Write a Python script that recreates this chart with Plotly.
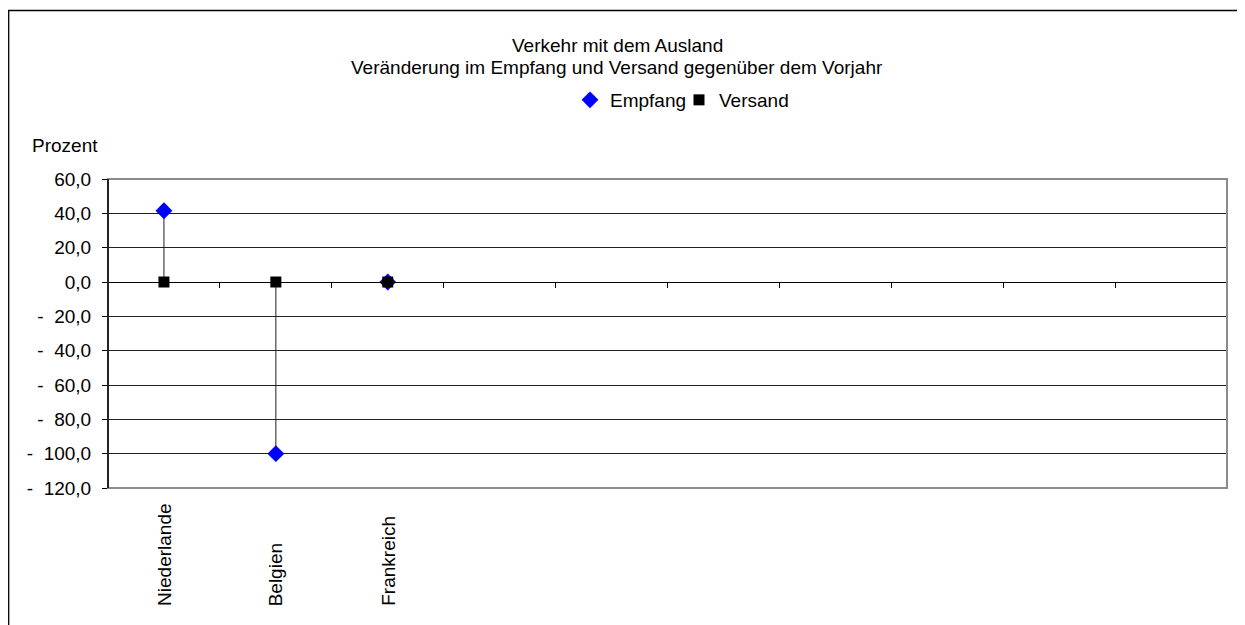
import plotly.graph_objects as go

# ---- data ----
categories = ["Niederlande", "Belgien", "Frankreich"]
n_slots = 10
empfang = [41.5, -100.0, 0.0]
versand = [0.0, 0.0, 0.0]
y_ticks = [60, 40, 20, 0, -20, -40, -60, -80, -100, -120]
y_ticklabels = ["60,0", "40,0", "20,0", "0,0",
                "-\u00a0\u00a020,0", "-\u00a0\u00a040,0", "-\u00a0\u00a060,0",
                "-\u00a0\u00a080,0", "-\u00a0\u00a0100,0", "-\u00a0\u00a0120,0"]
title_lines = ["Verkehr mit dem Ausland",
               "Veränderung im Empfang und Versand gegenüber dem Vorjahr"]

FONT = "Liberation Sans, Arial, sans-serif"
FS = 19
OFF = 8  # page body margin
W, H = 1245 - OFF, 625 - OFF
ML, MT = 108 - OFF, 179 - OFF
PR, PB = 1227 - OFF, 488 - OFF
MR, MB = W - PR, H - PB
pw = PR - ML
ph = PB - MT

def px_x(p):
    return (p - OFF - ML) / pw

def px_y(p):
    return (PB - (p - OFF)) / ph

xpos = [i + 0.5 for i in range(len(categories))]

# high-low lines
hl_x, hl_y = [], []
for x, a, b in zip(xpos, empfang, versand):
    hl_x += [x, x, None]
    hl_y += [a, b, None]

fig = go.Figure()
fig.add_trace(go.Scatter(x=hl_x, y=hl_y, mode="lines",
                         line=dict(color="#202020", width=1),
                         showlegend=False, hoverinfo="skip"))
fig.add_trace(go.Scatter(x=xpos, y=empfang, mode="markers", name="Empfang",
                         marker=dict(symbol="diamond", size=13, color="#0000FF")))
fig.add_trace(go.Scatter(x=xpos, y=versand, mode="markers", name="Versand",
                         marker=dict(symbol="square", size=11, color="#000000")))
# invisible trace to hold the zero-line axis
fig.add_trace(go.Scatter(x=[0, n_slots], y=[None, None], xaxis="x2",
                         showlegend=False, hoverinfo="skip", mode="lines"))

fig.update_layout(
    width=W, height=H,
    margin=dict(l=ML, r=MR, t=MT, b=MB),
    paper_bgcolor="white", plot_bgcolor="white",
    font=dict(family=FONT, size=FS, color="black"),
    showlegend=True,
    legend=dict(orientation="h", x=px_x(570), xanchor="left",
                y=px_y(100), yanchor="middle",
                font=dict(size=FS), itemwidth=30,
                entrywidth=64, entrywidthmode="pixels",
                bgcolor="rgba(0,0,0,0)"),
    xaxis=dict(range=[0, n_slots], showticklabels=False, showgrid=False,
               zeroline=False, showline=False, ticks=""),
    xaxis2=dict(range=[0, n_slots], overlaying="x", anchor="free",
                position=(0 - y_ticks[-1]) / (y_ticks[0] - y_ticks[-1]),
                side="bottom",
                tickmode="array", tickvals=list(range(n_slots + 1)),
                ticks="outside", ticklen=5, tickcolor="black", tickwidth=1,
                showticklabels=False, showgrid=False, zeroline=False,
                showline=True, linecolor="black", linewidth=1),
    yaxis=dict(range=[y_ticks[-1], y_ticks[0]], tickmode="array",
               tickvals=y_ticks, ticktext=y_ticklabels,
               ticks="outside", ticklen=5, tickcolor="black",
               showgrid=True, gridcolor="#202020", gridwidth=1,
               zeroline=False, showline=False,
               tickfont=dict(size=FS), ticklabelstandoff=7),
)

shapes = [
    # outer chart frame
    dict(type="rect", xref="paper", yref="paper",
         x0=px_x(OFF + 0.7), x1=px_x(1270), y0=px_y(660), y1=px_y(10.5),
         line=dict(color="black", width=1.3), fillcolor="rgba(0,0,0,0)",
         layer="below"),
    # plot area frame (gray)
    dict(type="rect", xref="paper", yref="paper", x0=0, x1=1, y0=0, y1=1,
         line=dict(color="#8c8c8c", width=2), fillcolor="rgba(0,0,0,0)",
         layer="above"),
    # left axis line black
    dict(type="line", xref="paper", yref="paper", x0=0, x1=0, y0=0, y1=1,
         line=dict(color="black", width=1.5), layer="above"),
]
fig.update_layout(shapes=shapes)

annotations = [
    dict(text=title_lines[0], xref="paper", yref="paper",
         x=px_x(617), y=px_y(45), xanchor="center", yanchor="middle",
         showarrow=False, font=dict(size=FS)),
    dict(text=title_lines[1], xref="paper", yref="paper",
         x=px_x(617), y=px_y(67), xanchor="center", yanchor="middle",
         showarrow=False, font=dict(size=FS)),
    dict(text="Prozent", xref="paper", yref="paper",
         x=px_x(30), y=px_y(145), xanchor="left", yanchor="middle",
         showarrow=False, font=dict(size=FS)),
]
for x, c in zip(xpos, categories):
    annotations.append(dict(text=c, xref="x", yref="paper", x=x, y=px_y(608),
                            xanchor="center", yanchor="bottom", textangle=-90,
                            showarrow=False, font=dict(size=FS)))
fig.update_layout(annotations=annotations)

fig.write_html("out.html")
